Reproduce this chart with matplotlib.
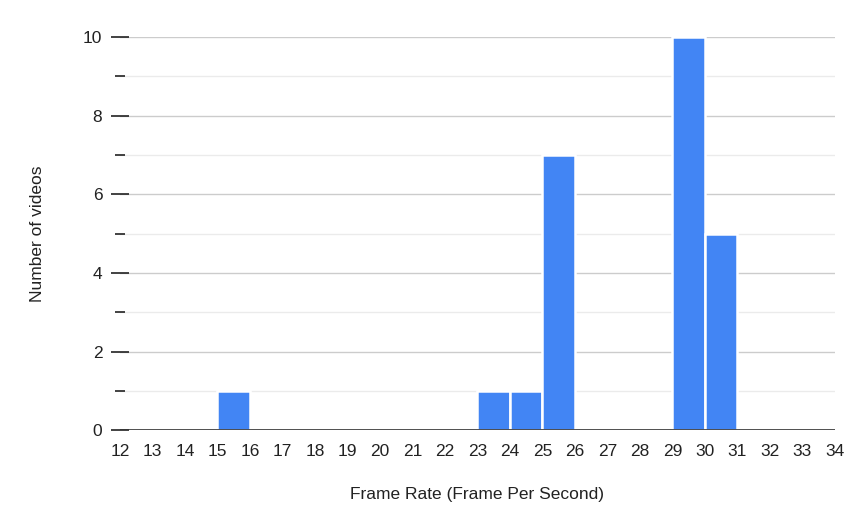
import matplotlib
matplotlib.use("Agg")
import matplotlib.pyplot as plt
from matplotlib.ticker import MultipleLocator

# histogram bins (left edge, fps) and counts
bin_starts = [15, 23, 24, 25, 29, 30]
counts = [1, 1, 1, 7, 10, 5]
x_ticks = list(range(12, 35))
y_major = [0, 2, 4, 6, 8, 10]

plt.rcParams['font.family'] = ['Liberation Sans', 'DejaVu Sans']

fig = plt.figure(figsize=(8.59, 5.31), dpi=100)
ax = fig.add_axes([0.1397, 0.190, 0.8323, 0.740])

ax.bar(bin_starts, counts, width=1, align='edge', color='#4285F4',
       edgecolor='white', linewidth=1.8, zorder=3)

ax.set_xlim(12, 34)
ax.set_ylim(0, 10)
ax.set_xticks(x_ticks)
ax.set_yticks(y_major)
ax.yaxis.set_minor_locator(MultipleLocator(1))

ax.grid(axis='y', which='major', color='#cccccc', linewidth=1, zorder=0)
ax.grid(axis='y', which='minor', color='#ebebeb', linewidth=1, zorder=0)
ax.axhline(0, color='#333333', linewidth=1.2, zorder=4)

for s in ax.spines.values():
    s.set_visible(False)

ax.tick_params(axis='x', length=0, labelsize=12.5, pad=10, colors='#222222')
ax.tick_params(axis='y', which='major', direction='inout', length=12.5, width=1.2,
               color='#222222', labelsize=12.5, pad=6.5, labelcolor='#222222')
ax.tick_params(axis='y', which='minor', direction='inout', length=6.5, width=1.2,
               color='#222222')

ax.set_xlabel('Frame Rate (Frame Per Second)', fontsize=12.5, labelpad=20, color='#222222')
ax.set_ylabel('Number of videos', fontsize=12.5, labelpad=27, color='#222222')

fig.savefig('out.png', dpi=100)
